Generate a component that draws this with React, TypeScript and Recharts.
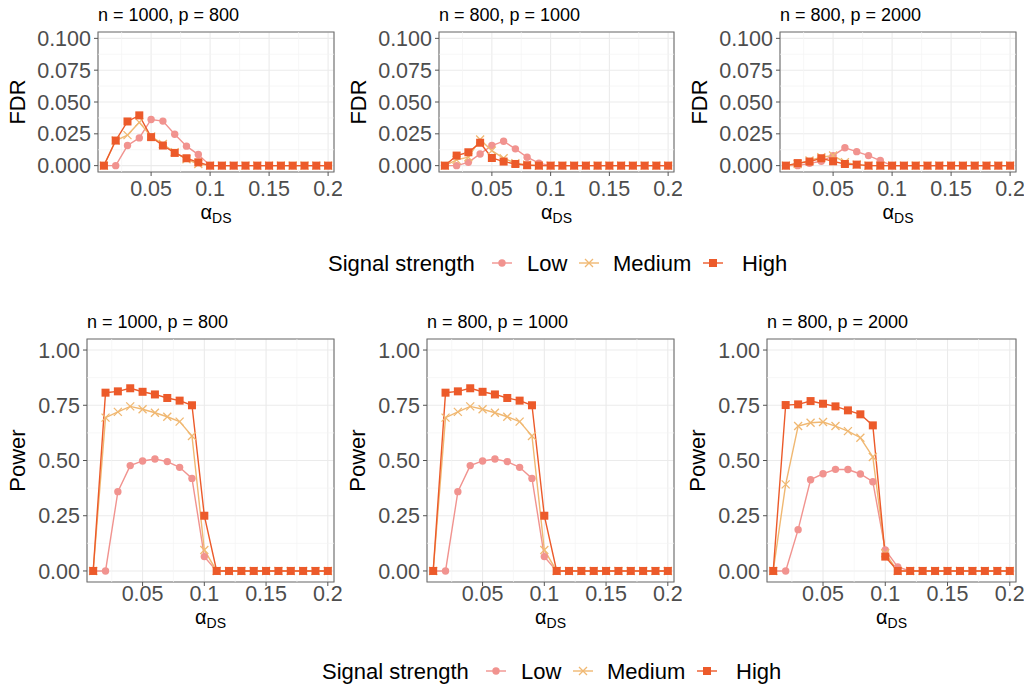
import { LineChart, Line, XAxis, YAxis, CartesianGrid, ReferenceLine, ReferenceArea } from 'recharts';

const LOW = '#F1938F';
const MED = '#F0B872';
const HIGH = '#EC5A2A';
const FONT = '"Liberation Sans", Arial, Helvetica, sans-serif';

const alphaDS = [0.01, 0.02, 0.03, 0.04, 0.05, 0.06, 0.07, 0.08, 0.09, 0.1, 0.11, 0.12, 0.13, 0.14, 0.15, 0.16, 0.17, 0.18, 0.19, 0.2];
const panelTitles = ['n = 1000, p = 800', 'n = 800, p = 1000', 'n = 800, p = 2000'];
const levels = ['Low', 'Medium', 'High'];

// FDR
const fdrLow1 = [0, 0, 0.0158, 0.0218, 0.0363, 0.035, 0.0247, 0.0153, 0.0087, 0, 0, 0, 0, 0, 0, 0, 0, 0, 0, 0];
const fdrMed1 = [0, 0.0197, 0.024, 0.034, 0.023, 0.017, 0.0105, 0.005, 0.0013, 0, 0, 0, 0, 0, 0, 0, 0, 0, 0, 0];
const fdrHigh1 = [0, 0.0197, 0.0347, 0.0395, 0.0224, 0.0158, 0.01, 0.0058, 0.0026, 0, 0, 0, 0, 0, 0, 0, 0, 0, 0, 0];
const fdrLow2 = [0, 0, 0.0026, 0.0092, 0.0158, 0.0192, 0.0132, 0.0066, 0.002, 0, 0, 0, 0, 0, 0, 0, 0, 0, 0, 0];
const fdrMed2 = [0, 0.0045, 0.0066, 0.0205, 0.0118, 0.0058, 0.002, 0.0008, 0, 0, 0, 0, 0, 0, 0, 0, 0, 0, 0, 0];
const fdrHigh2 = [0, 0.0079, 0.0105, 0.018, 0.006, 0.0032, 0.0013, 0.0003, 0, 0, 0, 0, 0, 0, 0, 0, 0, 0, 0, 0];
const fdrLow3 = [0, 0, 0.0018, 0.0034, 0.0079, 0.014, 0.011, 0.0079, 0.004, 0, 0, 0, 0, 0, 0, 0, 0, 0, 0, 0];
const fdrMed3 = [0, 0.0013, 0.004, 0.0066, 0.0079, 0.0026, 0.0008, 0, 0, 0, 0, 0, 0, 0, 0, 0, 0, 0, 0, 0];
const fdrHigh3 = [0, 0.002, 0.0032, 0.0058, 0.0034, 0.0013, 0.0008, 0, 0, 0, 0, 0, 0, 0, 0, 0, 0, 0, 0, 0];

// Power
const powLow1 = [0, 0, 0.359, 0.477, 0.498, 0.507, 0.495, 0.469, 0.419, 0.065, 0, 0, 0, 0, 0, 0, 0, 0, 0, 0];
const powMed1 = [0, 0.694, 0.72, 0.745, 0.732, 0.716, 0.698, 0.676, 0.611, 0.095, 0, 0, 0, 0, 0, 0, 0, 0, 0, 0];
const powHigh1 = [0, 0.807, 0.813, 0.827, 0.811, 0.799, 0.783, 0.771, 0.75, 0.25, 0, 0, 0, 0, 0, 0, 0, 0, 0, 0];
const powLow2 = [0, 0, 0.359, 0.477, 0.498, 0.507, 0.495, 0.469, 0.419, 0.065, 0, 0, 0, 0, 0, 0, 0, 0, 0, 0];
const powMed2 = [0, 0.694, 0.72, 0.745, 0.732, 0.716, 0.698, 0.676, 0.611, 0.095, 0, 0, 0, 0, 0, 0, 0, 0, 0, 0];
const powHigh2 = [0, 0.807, 0.813, 0.827, 0.811, 0.799, 0.783, 0.771, 0.75, 0.25, 0, 0, 0, 0, 0, 0, 0, 0, 0, 0];
const powLow3 = [0, 0, 0.187, 0.413, 0.44, 0.46, 0.459, 0.439, 0.404, 0.095, 0.018, 0, 0, 0, 0, 0, 0, 0, 0, 0];
const powMed3 = [0, 0.392, 0.656, 0.671, 0.674, 0.656, 0.633, 0.603, 0.516, 0.08, 0, 0, 0, 0, 0, 0, 0, 0, 0, 0];
const powHigh3 = [0, 0.751, 0.754, 0.769, 0.757, 0.745, 0.727, 0.709, 0.659, 0.065, 0, 0, 0, 0, 0, 0, 0, 0, 0, 0];

const xTicks = [0.05, 0.1, 0.15, 0.2];
const xMinor = [0.025, 0.075, 0.125, 0.175];
const fdrTicks = [0, 0.025, 0.05, 0.075, 0.1];
const fdrMinor = [0.0125, 0.0375, 0.0625, 0.0875];
const powTicks = [0, 0.25, 0.5, 0.75, 1];
const powMinor = [0.125, 0.375, 0.625, 0.875];

const rows = (low: number[], med: number[], high: number[]) =>
  alphaDS.map((a, i) => ({ a, low: low[i], med: med[i], high: high[i] }));

const LowDot = (p: any) => {
  if (p.cx == null || p.cy == null) return <g key={p.index} />;
  return <circle key={p.index} cx={p.cx} cy={p.cy} r={3.7} fill={LOW} />;
};
const MedDot = (p: any) => {
  if (p.cx == null || p.cy == null) return <g key={p.index} />;
  const { cx, cy } = p;
  return (
    <path key={p.index} d={`M${cx - 4},${cy - 4}L${cx + 4},${cy + 4}M${cx - 4},${cy + 4}L${cx + 4},${cy - 4}`}
      stroke={MED} strokeWidth={1.3} fill="none" />
  );
};
const HighDot = (p: any) => {
  if (p.cx == null || p.cy == null) return <g key={p.index} />;
  return <rect key={p.index} x={p.cx - 4} y={p.cy - 4} width={8} height={8} fill={HIGH} />;
};

const PADL = 95;
const PADT = 10;

type PanelProps = {
  x: number; y: number; w: number; h: number;
  data: any[]; yDomain: [number, number]; yTicks: number[]; yMinor: number[];
  digits: number; yLabel: string; labelGap: number; tickGap: number; alphaY: number;
};

const Panel = ({ x, y, w, h, data, yDomain, yTicks, yMinor, digits, yLabel, labelGap, tickGap, alphaY }: PanelProps) => {
  const xDomain: [number, number] = [0.005, 0.205];
  return (
    <div style={{ position: 'absolute', left: x - PADL, top: y - PADT }}>
      <LineChart width={PADL + w + 8} height={PADT + h + 60} data={data}
        margin={{ top: PADT, right: 8, left: PADL - 70, bottom: 6 }}>
        <CartesianGrid stroke="#EBEBEB" strokeWidth={1.1} />
        {xMinor.map(v => <ReferenceLine key={'vx' + v} x={v} stroke="#F3F3F3" strokeWidth={0.7} />)}
        {yMinor.map(v => <ReferenceLine key={'vy' + v} y={v} stroke="#F3F3F3" strokeWidth={0.7} />)}
        <XAxis dataKey="a" type="number" domain={xDomain} allowDataOverflow ticks={xTicks}
          tickFormatter={(v: number) => String(v)} height={54} axisLine={false}
          tickSize={4} tickMargin={tickGap} tickLine={{ stroke: '#555' }}
          tick={{ fill: '#4D4D4D', fontSize: 21.5, fontFamily: FONT }}
          label={{
            content: (lp: any) => {
              const vb = lp.viewBox || {};
              return (
                <text x={vb.x + vb.width / 2} y={vb.y + alphaY} textAnchor="middle" fontFamily={FONT} fill="#000">
                  <tspan fontSize={20}>α</tspan>
                  <tspan fontSize={14} dy={4}>DS</tspan>
                </text>
              );
            },
          }} />
        <YAxis type="number" domain={yDomain} allowDataOverflow ticks={yTicks} width={70}
          tickFormatter={(v: number) => v.toFixed(digits)} axisLine={false}
          tickSize={4} tickMargin={3} tickLine={{ stroke: '#555' }}
          tick={{ fill: '#4D4D4D', fontSize: 21.5, fontFamily: FONT }}
          label={{
            content: (lp: any) => {
              const vb = lp.viewBox || {};
              const cx = vb.x + vb.width - labelGap;
              const cy = vb.y + vb.height / 2;
              return (
                <text x={cx} y={cy} transform={`rotate(-90 ${cx} ${cy})`} textAnchor="middle"
                  dominantBaseline="central" fontSize={22} fontFamily={FONT} fill="#000">{yLabel}</text>
              );
            },
          }} />
        <ReferenceArea x1={xDomain[0]} x2={xDomain[1]} y1={yDomain[0]} y2={yDomain[1]}
          fill="none" fillOpacity={0} stroke="#6E6E6E" strokeWidth={1.1} ifOverflow="visible" />
        <Line type="linear" dataKey="low" stroke={LOW} strokeWidth={1.4} dot={LowDot} isAnimationActive={false} />
        <Line type="linear" dataKey="med" stroke={MED} strokeWidth={1.4} dot={MedDot} isAnimationActive={false} />
        <Line type="linear" dataKey="high" stroke={HIGH} strokeWidth={1.4} dot={HighDot} isAnimationActive={false} />
      </LineChart>
    </div>
  );
};

const LegendRow = ({ x, y }: { x: number; y: number }) => {
  const icons = [x + 174, x + 261, x + 385];
  const texts = [x + 199, x + 285, x + 414];
  return (
    <g fontFamily={FONT} fontSize={22} fill="#000">
      <text x={x} y={y + 8}>Signal strength</text>
      {levels.map((lv, i) => (
        <g key={lv}>
          <line x1={icons[i] - 10} x2={icons[i] + 10} y1={y} y2={y}
            stroke={[LOW, MED, HIGH][i]} strokeWidth={1.4} />
          {i === 0 && <circle cx={icons[i]} cy={y} r={3.7} fill={LOW} />}
          {i === 1 && <path d={`M${icons[i] - 4},${y - 4}L${icons[i] + 4},${y + 4}M${icons[i] - 4},${y + 4}L${icons[i] + 4},${y - 4}`} stroke={MED} strokeWidth={1.3} />}
          {i === 2 && <rect x={icons[i] - 4} y={y - 4} width={8} height={8} fill={HIGH} />}
          <text x={texts[i]} y={y + 8}>{lv}</text>
        </g>
      ))}
    </g>
  );
};

const topLeft = [98, 439, 780];
const botLeft = [87, 427, 767];
const rights = [334, 674, 1016];

const fdrData = [rows(fdrLow1, fdrMed1, fdrHigh1), rows(fdrLow2, fdrMed2, fdrHigh2), rows(fdrLow3, fdrMed3, fdrHigh3)];
const powData = [rows(powLow1, powMed1, powHigh1), rows(powLow2, powMed2, powHigh2), rows(powLow3, powMed3, powHigh3)];

export default function App() {
  return (
    <div style={{ position: 'absolute', left: 0, top: 0, width: 1029, height: 685, background: '#fff', overflow: 'hidden' }}>
      {fdrData.map((d, i) => (
        <Panel key={'f' + i} x={topLeft[i]} y={32} w={rights[i] - topLeft[i]} h={140} data={d}
          yDomain={[-0.005, 0.105]} yTicks={fdrTicks} yMinor={fdrMinor} digits={3} yLabel="FDR" labelGap={81}
          tickGap={5} alphaY={47} />
      ))}
      {powData.map((d, i) => (
        <Panel key={'p' + i} x={botLeft[i]} y={339} w={rights[i] - botLeft[i]} h={243} data={d}
          yDomain={[-0.05, 1.05]} yTicks={powTicks} yMinor={powMinor} digits={2} yLabel="Power" labelGap={70}
          tickGap={0} alphaY={42} />
      ))}
      <svg width={1029} height={685} style={{ position: 'absolute', left: 0, top: 0, pointerEvents: 'none' }}>
        {topLeft.map((l, i) => (
          <text key={'tt' + i} x={l} y={21} fontFamily={FONT} fontSize={18} fill="#000">{panelTitles[i]}</text>
        ))}
        {botLeft.map((l, i) => (
          <text key={'bt' + i} x={l} y={328} fontFamily={FONT} fontSize={18} fill="#000">{panelTitles[i]}</text>
        ))}
        <LegendRow x={328} y={263} />
        <LegendRow x={322} y={671} />
      </svg>
    </div>
  );
}
